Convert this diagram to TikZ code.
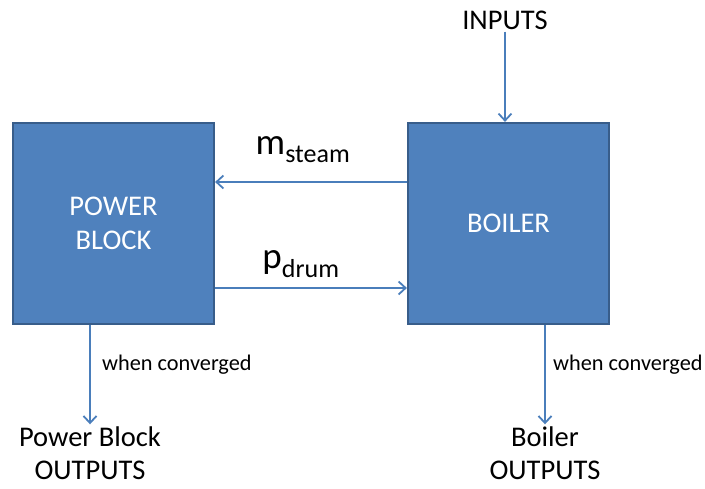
\documentclass[tikz,border=0pt]{standalone}
\usepackage{fontspec}
\setmainfont{Carlito}
\usepackage{tikz}
\usetikzlibrary{arrows.meta,positioning,calc}
\definecolor{blockfill}{HTML}{4F81BD}
\definecolor{blockline}{HTML}{385D8A}
\definecolor{flowc}{HTML}{4A7EBB}
\tikzset{
  blockbox/.style={draw=blockline,line width=2.2pt,fill=blockfill,minimum width=201pt,
    minimum height=201pt,inner sep=0pt,align=center,text=white,font=\fontsize{28.5}{34}\selectfont},
  flow/.style={-{Straight Barb[length=7pt,width=13pt,line width=1.8pt]},line width=1.9pt,draw=flowc},
  plain/.style={inner sep=2pt,align=center,font=\fontsize{28.5}{33}\selectfont},
  note/.style={inner sep=0pt,anchor=west,font=\fontsize{22.3}{26}\selectfont},
  qlabel/.style={inner sep=0pt,font=\fontsize{37}{40}\selectfont},
}
\begin{document}
\begin{tikzpicture}[x=1pt,y=-1pt]
  \useasboundingbox (0,0) rectangle (705,489);
  \node[blockbox] (power) at (113.5,223.5) {POWER\\BLOCK};
  \node[blockbox] (boiler) at (508.5,223.5) {BOILER};
  \node[plain] (inputs) at (505,20) {INPUTS};
  \draw[flow] (inputs) -- (inputs |- boiler.north);
  % iteration between the two blocks
  \draw[flow] ([yshift=41.5pt]boiler.west) -- ([yshift=41.5pt]power.east);
  \draw[flow] ([yshift=-64.5pt]power.east) -- ([yshift=-64.5pt]boiler.west);
  \node[qlabel] (msteam) at (303,150) {m\textsubscript{\fontsize{26}{28}\selectfont steam}};
  \node[qlabel] (pdrum) at (301,264) {p\textsubscript{\fontsize{26}{28}\selectfont drum}};
  % outputs
  \node[plain] (powerout) at (90,453) {Power Block\\OUTPUTS};
  \node[plain] (boilerout) at (545,453) {Boiler\\OUTPUTS};
  \draw[flow] (powerout.north |- power.south) -- (powerout.north);
  \draw[flow] (boilerout.north |- boiler.south) -- (boilerout.north);
  \node[note] (pconv) at (102,365) {when converged};
  \node[note] (bconv) at (553,365) {when converged};
\end{tikzpicture}
\end{document}
